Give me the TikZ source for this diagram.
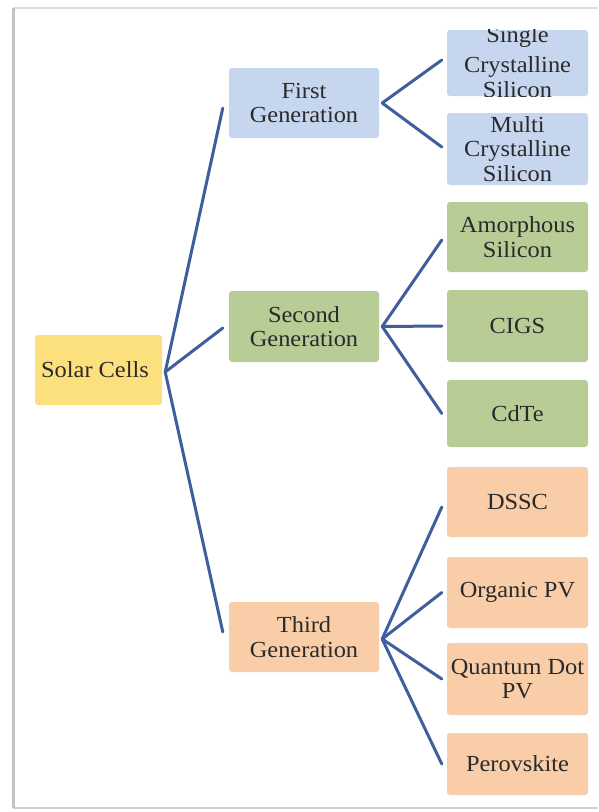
\documentclass[tikz,border=0pt]{standalone}
\usepackage{fontspec}
\setmainfont{Liberation Serif}[FakeStretch=1.06]
\usetikzlibrary{calc}
\definecolor{bluefill}{HTML}{C6D6EE}
\definecolor{greenfill}{HTML}{B7CD95}
\definecolor{peachfill}{HTML}{F8CDA8}
\definecolor{yellowfill}{HTML}{FDE07E}
\definecolor{linkcol}{HTML}{3E5F9C}
\definecolor{txtcol}{HTML}{2A2A2A}
\definecolor{framecol}{HTML}{C4C4C4}
\tikzset{
  box/.style={rectangle, rounded corners=3pt, inner sep=0pt, align=center,
    text=txtcol, font=\fontsize{23}{24.5}\selectfont},
  genbox/.style={box, minimum width=150pt},
  leafbox/.style={box, minimum width=141pt},
  link/.style={draw=linkcol, line width=3pt, line cap=round}
}
\begin{document}
\begin{tikzpicture}[x=1pt,y=-1pt]
\useasboundingbox (0,0) rectangle (598,812);
% frame
\draw[framecol!60, line width=2pt] (13,8) -- (598,8);
\draw[framecol!80, line width=2pt] (13,808) -- (598,808);
\draw[framecol, line width=3pt] (13,8) -- (13,808);
% root
\node[box, fill=yellowfill, minimum width=127pt, minimum height=70pt] (root) at (98.5,370) {\hspace*{-7pt}Solar Cells};
% generations
\node[genbox, fill=bluefill, minimum height=70pt] (gen1) at (304,103) {First\\Generation};
\node[genbox, fill=greenfill, minimum height=71pt] (gen2) at (304,326.5) {Second\\Generation};
\node[genbox, fill=peachfill, minimum height=70pt] (gen3) at (304,637) {Third\\Generation};
% leaves
\node[leafbox, fill=bluefill, minimum height=66pt] (single) at (517.5,63) {};
\begin{scope}
  \clip (single.north west) rectangle (single.south east);
  \node[box, text=txtcol] (singletxt) at (517.5,62) {Single\\[6pt]Crystalline\\Silicon};
\end{scope}
\node[leafbox, fill=bluefill, minimum height=72pt] (multi) at (517.5,149) {Multi\\Crystalline\\Silicon};
\node[leafbox, fill=greenfill, minimum height=70pt] (amorph) at (517.5,237) {Amorphous\\Silicon};
\node[leafbox, fill=greenfill, minimum height=72pt] (cigs) at (517.5,326) {CIGS};
\node[leafbox, fill=greenfill, minimum height=67pt] (cdte) at (517.5,413.5) {CdTe};
\node[leafbox, fill=peachfill, minimum height=70pt] (dssc) at (517.5,502) {DSSC};
\node[leafbox, fill=peachfill, minimum height=71pt] (organic) at (517.5,592.5) {Organic PV};
\node[leafbox, fill=peachfill, minimum height=72pt] (quantum) at (517.5,679) {Quantum Dot\\PV};
\node[leafbox, fill=peachfill, minimum height=62pt] (perov) at (517.5,764) {Perovskite};
% connectors root -> generations
\draw[link] ([xshift=3pt,yshift=-2pt]root.east) -- ([xshift=-6pt,yshift=-5pt]gen1.west);
\draw[link] ([xshift=3pt,yshift=-2pt]root.east) -- ([xshift=-6pt,yshift=-1.5pt]gen2.west);
\draw[link] ([xshift=3pt,yshift=-2pt]root.east) -- ([xshift=-6pt,yshift=5pt]gen3.west);
% generation -> leaves
\draw[link] ([xshift=3pt]gen1.east) -- ([xshift=-5pt,yshift=3pt]single.west);
\draw[link] ([xshift=3pt]gen1.east) -- ([xshift=-5pt,yshift=2pt]multi.west);
\draw[link] ([xshift=3pt]gen2.east) -- ([xshift=-5pt,yshift=-3pt]amorph.west);
\draw[link] ([xshift=3pt]gen2.east) -- ([xshift=-5pt]cigs.west);
\draw[link] ([xshift=3pt]gen2.east) -- ([xshift=-5pt]cdte.west);
\draw[link] ([xshift=3pt,yshift=-2pt]gen3.east) -- ([xshift=-5pt,yshift=-5pt]dssc.west);
\draw[link] ([xshift=3pt,yshift=-2pt]gen3.east) -- ([xshift=-5pt]organic.west);
\draw[link] ([xshift=3pt,yshift=-2pt]gen3.east) -- ([xshift=-5pt]quantum.west);
\draw[link] ([xshift=3pt,yshift=-2pt]gen3.east) -- ([xshift=-5pt]perov.west);
\end{tikzpicture}
\end{document}
